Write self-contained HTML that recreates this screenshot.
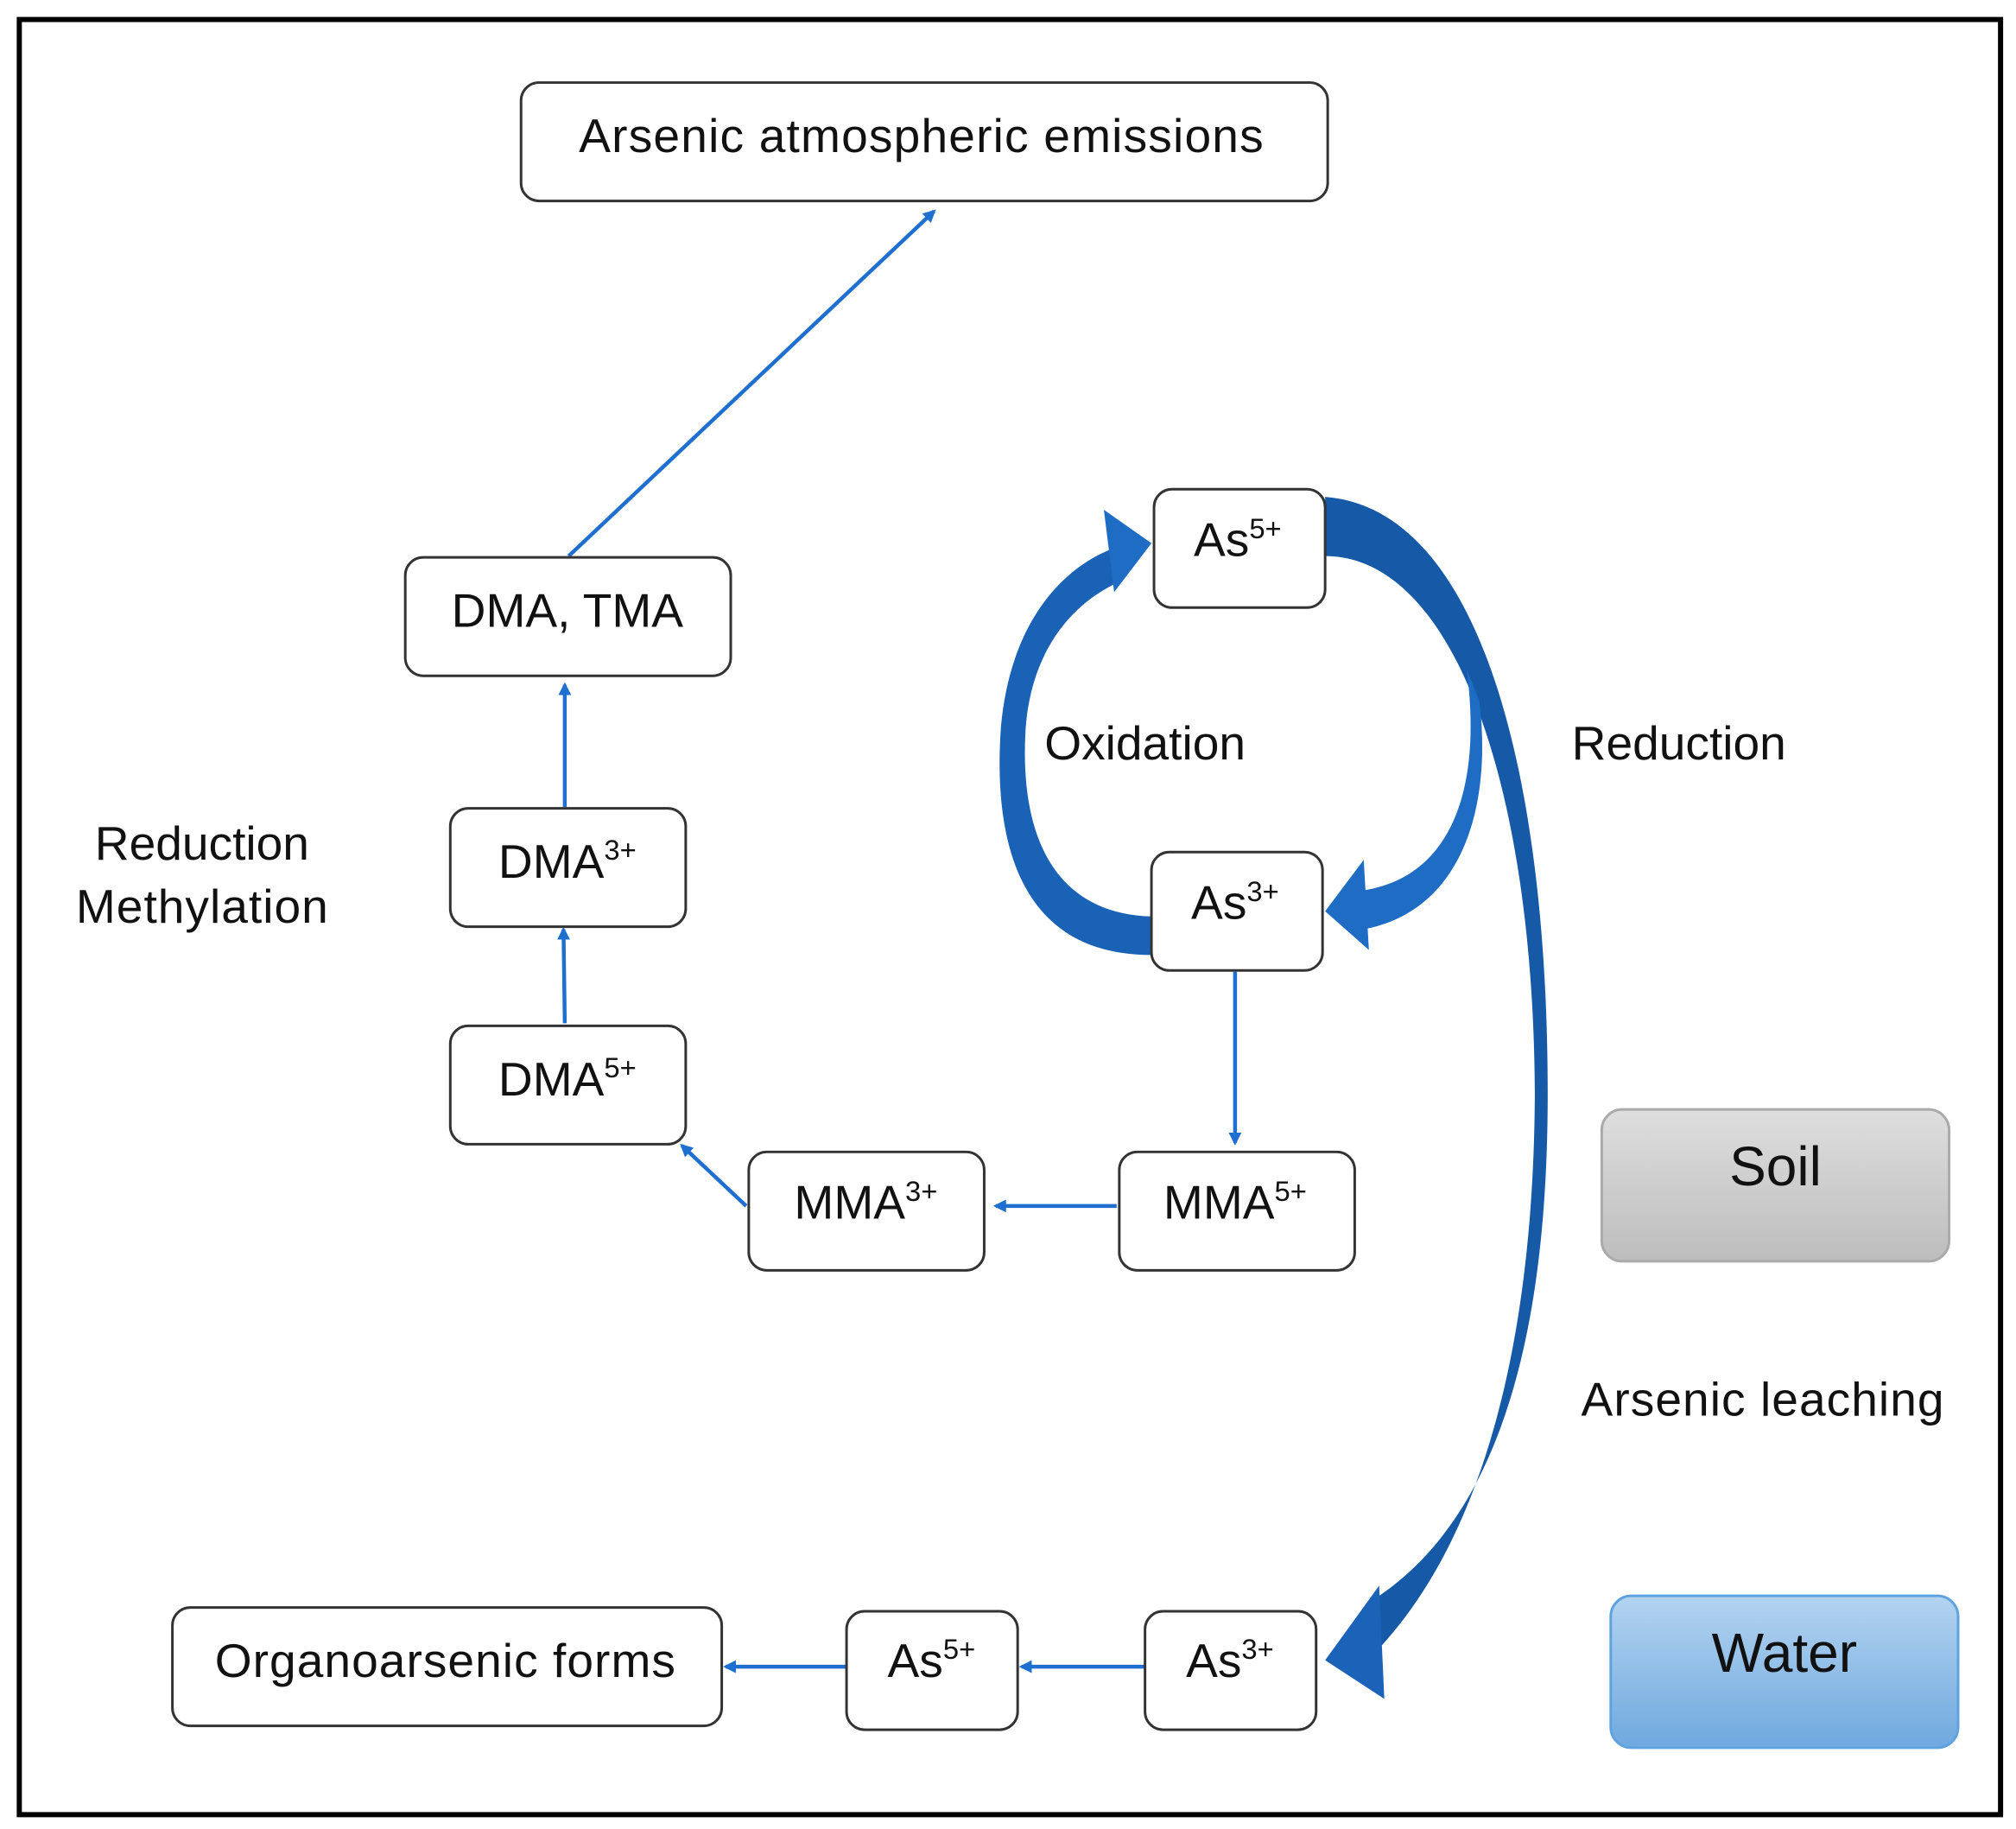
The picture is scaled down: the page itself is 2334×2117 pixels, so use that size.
<!DOCTYPE html>
<html><head><meta charset="utf-8"><style>
html,body{margin:0;padding:0;background:#fff}
svg{display:block}
text{font-family:"Liberation Sans",Arial,sans-serif;fill:#111}
</style></head><body>
<svg width="2334" height="2117" viewBox="0 0 1567 1421" xmlns="http://www.w3.org/2000/svg">
<defs>
<linearGradient id="soil" x1="0" y1="0" x2="0" y2="1"><stop offset="0" stop-color="#dedede"/><stop offset="1" stop-color="#bdbdbd"/></linearGradient>
<linearGradient id="water" x1="0" y1="0" x2="0" y2="1"><stop offset="0" stop-color="#b3d3f0"/><stop offset="1" stop-color="#6fa9df"/></linearGradient>
<marker id="ah" markerWidth="10" markerHeight="10" refX="8" refY="5" orient="auto" markerUnits="userSpaceOnUse"><path d="M0,0 L10,5 L0,10 Z" fill="#1f6fd0"/></marker>
</defs>
<rect x="15" y="15" width="1540" height="1395" fill="#fff" stroke="#000" stroke-width="4"/>

<!-- thick arrows -->
<path d="M1030,386 C1150,395 1203,600 1203,850 C1203,1050 1160,1180 1072,1240 L1068,1285 C1150,1200 1192,1050 1193,850 C1192,610 1130,432 1030,432 Z" fill="#1659a6"/>
<polygon points="1030,1290 1072,1232 1076,1320" fill="#1a63b8"/>
<path d="M1140,520 C1152,610 1130,682 1058,692 L1060,722 C1135,708 1160,630 1150,545 Z" fill="#1e6cc4"/>
<polygon points="1030,708 1060,668 1064,738" fill="#1e6cc4"/>
<path d="M895,742 C790,742 772,650 778,565 C785,485 825,440 868,425 L870,452 C830,470 800,510 797,570 C793,650 820,710 895,712 Z" fill="#1a62b6"/>
<polygon points="895,422 858,396 866,460" fill="#1e6cc4"/>

<!-- thin arrows -->
<g stroke="#1f6fd0" stroke-width="3" fill="none" marker-end="url(#ah)">
<line x1="442" y1="432" x2="726" y2="164"/>
<line x1="439" y1="627" x2="439" y2="532"/>
<line x1="439" y1="795" x2="438" y2="722"/>
<line x1="580" y1="937" x2="530" y2="890"/>
<line x1="868" y1="937" x2="774" y2="937"/>
<line x1="960" y1="755" x2="960" y2="888"/>
<line x1="890" y1="1295" x2="794" y2="1295"/>
<line x1="658" y1="1295" x2="564" y2="1295"/>
</g>

<!-- boxes -->
<g fill="#fff" stroke="#333" stroke-width="2">
<rect x="405" y="64" width="627" height="92" rx="14"/>
<rect x="315" y="433" width="253" height="92" rx="14"/>
<rect x="350" y="628" width="183" height="92" rx="14"/>
<rect x="350" y="797" width="183" height="92" rx="14"/>
<rect x="582" y="895" width="183" height="92" rx="14"/>
<rect x="870" y="895" width="183" height="92" rx="14"/>
<rect x="897" y="380" width="133" height="92" rx="14"/>
<rect x="895" y="662" width="133" height="92" rx="14"/>
<rect x="134" y="1249" width="427" height="92" rx="14"/>
<rect x="658" y="1252" width="133" height="92" rx="14"/>
<rect x="890" y="1252" width="133" height="92" rx="14"/>
</g>
<rect x="1245" y="862" width="270" height="118" rx="16" fill="url(#soil)" stroke="#aaa" stroke-width="2"/>
<rect x="1252" y="1240" width="270" height="118" rx="16" fill="url(#water)" stroke="#5ea3e0" stroke-width="2"/>

<g font-size="37" text-anchor="middle">
<text x="716" y="118" textLength="532">Arsenic atmospheric emissions</text>
<text x="441" y="487">DMA, TMA</text>
<text x="441" y="682">DMA<tspan font-size="22" dy="-14">3+</tspan></text>
<text x="441" y="851">DMA<tspan font-size="22" dy="-14">5+</tspan></text>
<text x="673" y="947">MMA<tspan font-size="22" dy="-14">3+</tspan></text>
<text x="960" y="947">MMA<tspan font-size="22" dy="-14">5+</tspan></text>
<text x="962" y="432">As<tspan font-size="22" dy="-14">5+</tspan></text>
<text x="960" y="714">As<tspan font-size="22" dy="-14">3+</tspan></text>
<text x="346" y="1303" textLength="358">Organoarsenic forms</text>
<text x="724" y="1303">As<tspan font-size="22" dy="-14">5+</tspan></text>
<text x="956" y="1303">As<tspan font-size="22" dy="-14">3+</tspan></text>
<text x="157" y="668">Reduction</text>
<text x="157" y="717" textLength="196">Methylation</text>
<text x="890" y="590">Oxidation</text>
<text x="1305" y="590">Reduction</text>
<text x="1370" y="1100" textLength="282">Arsenic leaching</text>
<text x="1380" y="921" font-size="43">Soil</text>
<text x="1387" y="1299" font-size="43">Water</text>
</g>
</svg>
</body></html>
